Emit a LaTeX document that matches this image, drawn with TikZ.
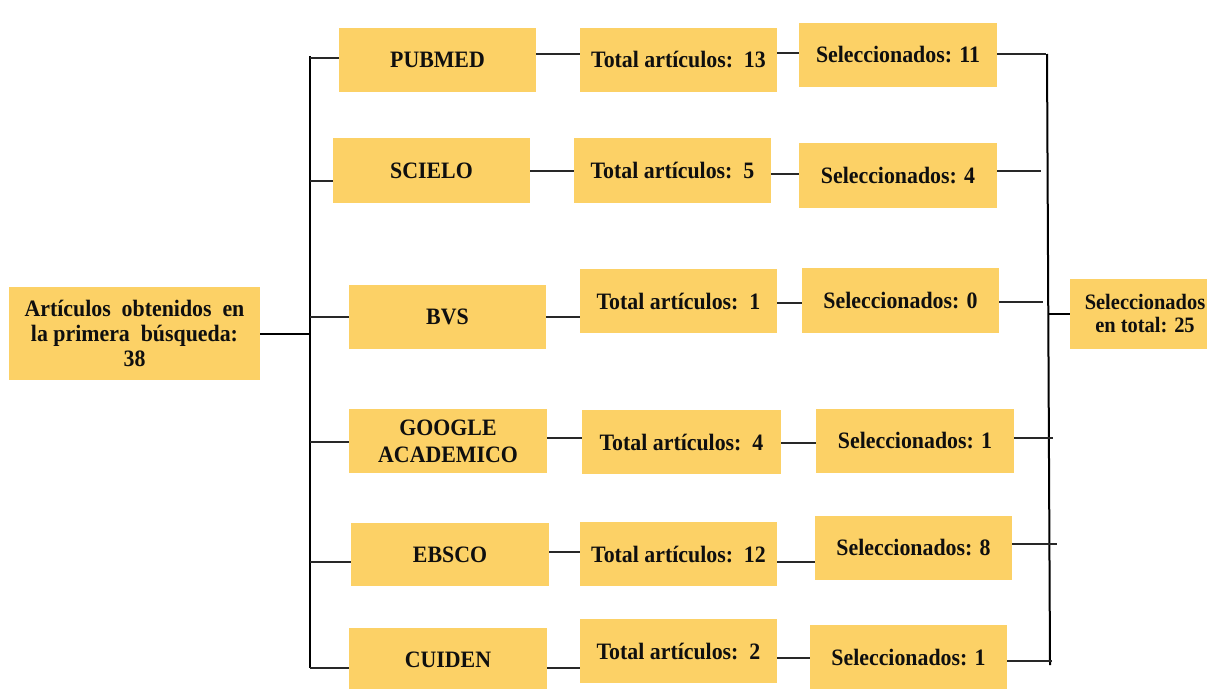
\documentclass[tikz,border=0pt]{standalone}
\usepackage{fontspec}
\setmainfont{Liberation Serif}[FakeStretch=0.93]
\definecolor{boxc}{RGB}{252,209,102}
\definecolor{linec}{RGB}{40,40,40}
\definecolor{txtc}{RGB}{15,15,15}
\begin{document}
\begin{tikzpicture}[x=1pt,y=-1pt,
  box/.style={fill=boxc, inner sep=0pt, align=center, text=txtc,
    font=\bfseries\fontsize{23.5}{25}\selectfont},
  bw/.style={minimum width=197pt, minimum height=64pt},
  thinl/.style={draw=linec, line width=1.3pt},
  busl/.style={draw=black, line width=2pt}]
\useasboundingbox (0,0) rectangle (1207,688);

% left box
\node[box, minimum width=251pt, minimum height=93pt] (start) at (134.5,333.5)
  {Artículos\ \ obtenidos\ \ en\\la primera\ \ búsqueda:\\38};

% column 1
\node[box,bw] (pub) at (437.5,60) {PUBMED};
\node[box,bw,minimum height=65pt] (sci) at (431.5,170.5) {SCIELO};
\node[box,bw] (bvs) at (447.5,317) {BVS};
\node[box,bw,minimum width=198pt,font=\bfseries\fontsize{23.5}{27}\selectfont] (goo) at (448,441) {GOOGLE\\ACADEMICO};
\node[box,bw,minimum width=198pt,minimum height=63pt] (ebs) at (450,554.5) {EBSCO};
\node[box,bw,minimum width=198pt] (cui) at (448,660) {CUIDEN};

% column 2
\node[box,bw] (t1) at (678.5,60) {Total artículos:\ \ 13};
\node[box,bw,minimum height=65pt] (t2) at (672.5,170.5) {Total artículos:\ \ 5};
\node[box,bw] (t3) at (678.5,301) {Total artículos:\ \ 1};
\node[box,bw,minimum width=199pt] (t4) at (681.5,442) {Total artículos:\ \ 4};
\node[box,bw] (t5) at (678.5,554) {Total artículos:\ \ 12};
\node[box,bw] (t6) at (678.5,651) {Total artículos:\ \ 2};

% column 3
\node[box,bw,minimum width=198pt] (s1) at (898,55) {Seleccionados: 11};
\node[box,bw,minimum width=198pt,minimum height=65pt] (s2) at (898,175.5) {Seleccionados: 4};
\node[box,bw,minimum height=65pt] (s3) at (900.5,300.5) {Seleccionados: 0};
\node[box,bw,minimum width=198pt] (s4) at (915,441) {Seleccionados: 1};
\node[box,bw] (s5) at (913.5,548) {Seleccionados: 8};
\node[box,bw,minimum height=65pt] (s6) at (908.5,657.5) {Seleccionados: 1};

% total box
\node[box, minimum width=150pt, minimum height=70pt,
  font=\bfseries\fontsize{22}{23}\selectfont] (tot) at (1145,314)
  {Seleccionados\\en total: 25};

% left bus
\coordinate (lbt) at (310,56);
\coordinate (lbb) at (310,668);
\draw[busl] (lbt) -- (lbb);
\draw[busl] (start.east) -- (start.east -| lbt);
\coordinate (lb1) at (310,58);
\coordinate (lb2) at (310,181);
\coordinate (lb3) at (310,317);
\coordinate (lb4) at (310,442);
\coordinate (lb5) at (310,562);
\coordinate (lb6) at (310,668);
\draw[thinl] (lb1) -- (lb1 -| pub.west);
\draw[thinl] (lb2) -- (lb2 -| sci.west);
\draw[thinl] (lb3) -- (lb3 -| bvs.west);
\draw[thinl] (lb4) -- (lb4 -| goo.west);
\draw[thinl] (lb5) -- (lb5 -| ebs.west);
\draw[thinl] (lb6) -- (lb6 -| cui.west);

% column 1 -> column 2
\draw[thinl] (pub.east |- 0,54) -- (t1.west |- 0,54);
\draw[thinl] (sci.east |- 0,171) -- (t2.west |- 0,171);
\draw[thinl] (bvs.east |- 0,317) -- (t3.west |- 0,317);
\draw[thinl] (goo.east |- 0,438) -- (t4.west |- 0,438);
\draw[thinl] (ebs.east |- 0,552) -- (t5.west |- 0,552);
\draw[thinl] (cui.east |- 0,668) -- (t6.west |- 0,668);

% column 2 -> column 3
\draw[thinl] (t1.east |- 0,53) -- (s1.west |- 0,53);
\draw[thinl] (t2.east |- 0,174) -- (s2.west |- 0,174);
\draw[thinl] (t3.east |- 0,303) -- (s3.west |- 0,303);
\draw[thinl] (t4.east |- 0,443) -- (s4.west |- 0,443);
\draw[thinl] (t5.east |- 0,562) -- (s5.west |- 0,562);
\draw[thinl] (t6.east |- 0,658) -- (s6.west |- 0,658);

% right bus
\coordinate (rbt) at (1047,54);
\coordinate (rbb) at (1050,665);
\draw[busl] (rbt) -- (rbb);
\coordinate (rb1) at (1046,54);
\coordinate (rb2) at (1041,171);
\coordinate (rb3) at (1043,302);
\coordinate (rb4) at (1053,438);
\coordinate (rb5) at (1057,544);
\coordinate (rb6) at (1052,661);
\draw[thinl] (s1.east |- rb1) -- (rb1);
\draw[thinl] (s2.east |- rb2) -- (rb2);
\draw[thinl] (s3.east |- rb3) -- (rb3);
\draw[thinl] (s4.east |- rb4) -- (rb4);
\draw[thinl] (s5.east |- rb5) -- (rb5);
\draw[thinl] (s6.east |- rb6) -- (rb6);
\coordinate (rbm) at (1048,314);
\draw[busl] (rbm) -- (rbm -| tot.west);
\end{tikzpicture}
\end{document}
